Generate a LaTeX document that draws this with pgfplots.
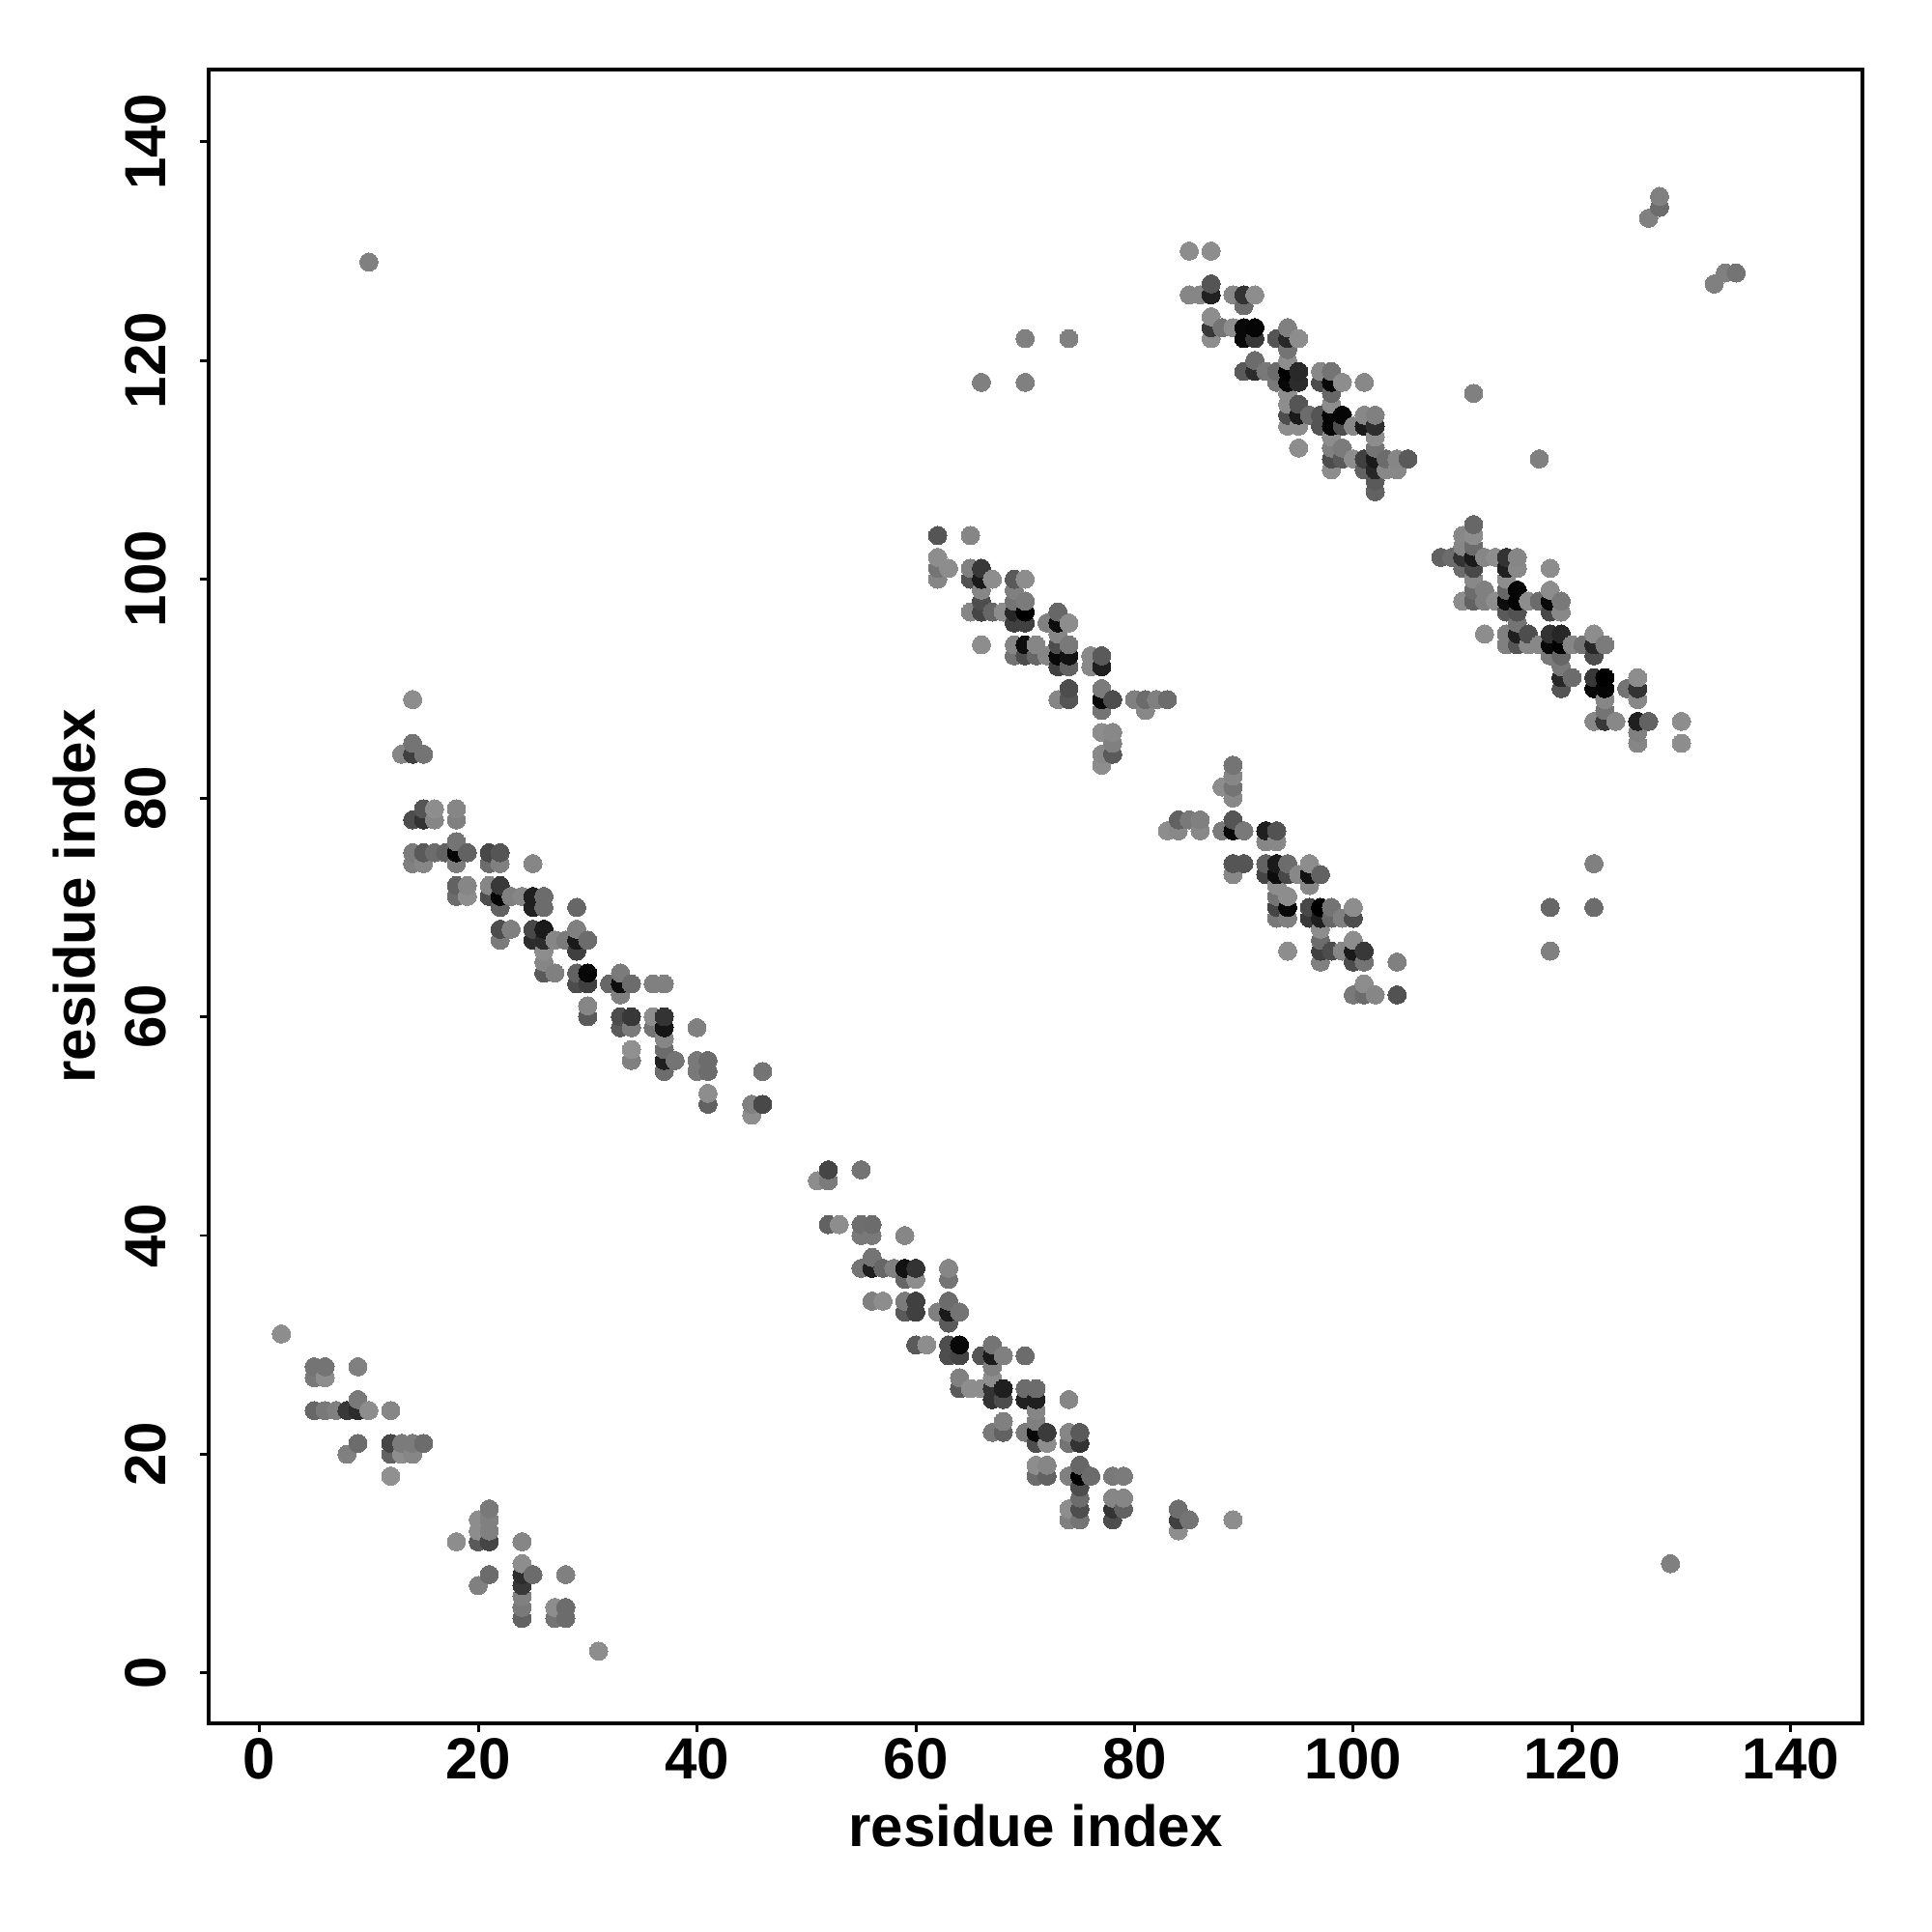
\documentclass[border=0pt]{standalone}
\usepackage{fontspec}
\setmainfont{Liberation Sans}
\usepackage{pgfplots}
\pgfplotsset{compat=1.18}
\begin{document}
\begin{tikzpicture}
\path[use as bounding box] (0,0) rectangle (20cm,20cm);
\begin{axis}[
  at={(2.16cm,2.16cm)}, anchor=south west,
  width=17.12cm, height=17.12cm, scale only axis,
  xmin=-4.65, xmax=146.55, ymin=-4.6, ymax=146.6,
  axis line style={line width=1pt, black},
  xtick={0,20,...,140}, ytick={0,20,...,140},
  xtick pos=bottom, ytick pos=left,
  tick align=outside, major tick length=2.5pt,
  tick style={line width=0.85pt, black},
  /pgf/number format/assume math mode=true,
  tick label style={font=\fontsize{17.1}{18}\selectfont\bfseries},
  label style={font=\fontsize{17.1}{18}\selectfont\bfseries},
  x tick label style={yshift=1.5pt},
  y tick label style={xshift=-6.5pt, rotate=90, anchor=south},
  xlabel={residue index}, ylabel={residue index},
  xlabel shift=0.3pt, ylabel shift=1.9pt,
  colormap/blackwhite,
  point meta min=0, point meta max=1,
]
\addplot[scatter, only marks, mark=*, mark size=2.68pt, scatter src=explicit,
  mark options={line width=0pt},
  scatter/use mapped color={draw=mapped color, fill=mapped color}]
 table[x=x, y=y, meta=g, row sep=\\] {
x y g\\
2 31 .55\\
5 24 .40\\ 5 27 .47\\ 5 28 .45\\
6 24 .47\\ 6 27 .55\\ 6 28 .45\\
7 24 .5\\
8 20 .5\\ 8 24 .22\\
9 21 .42\\ 9 24 .17\\ 9 25 .47\\ 9 28 .5\\
10 24 .55\\ 10 129 .5\\
12 18 .56\\ 12 20 .38\\ 12 21 .27\\ 12 24 .52\\
13 20 .55\\ 13 21 .48\\ 13 84 .52\\
14 20 .52\\ 14 21 .48\\ 14 74 .5\\ 14 75 .48\\ 14 78 .3\\ 14 84 .25\\ 14 85 .45\\ 14 89 .55\\
15 21 .42\\ 15 74 .52\\ 15 75 .35\\ 15 78 .2\\ 15 79 .33\\ 15 84 .45\\
16 75 .42\\ 16 78 .52\\ 16 79 .55\\
17 75 .38\\
18 12 .55\\ 18 71 .42\\ 18 72 .38\\ 18 74 .48\\ 18 75 .02\\ 18 76 .45\\ 18 78 .5\\ 18 79 .52\\
19 71 .55\\ 19 72 .52\\ 19 75 .38\\
20 8 .5\\ 20 12 .35\\ 20 13 .55\\ 20 14 .55\\
21 9 .42\\ 21 12 .27\\ 21 13 .5\\ 21 14 .5\\ 21 15 .47\\ 21 71 .3\\ 21 72 .52\\ 21 74 .42\\ 21 75 .28\\
22 67 .48\\ 22 68 .3\\ 22 70 .38\\ 22 71 .02\\ 22 72 .22\\ 22 74 .5\\ 22 75 .33\\
23 68 .5\\ 23 71 .5\\
24 5 .38\\ 24 6 .47\\ 24 7 .5\\ 24 8 .22\\ 24 9 .17\\ 24 10 .55\\ 24 12 .52\\ 24 71 .52\\
25 9 .42\\ 25 67 .17\\ 25 68 .28\\ 25 70 .13\\ 25 71 .12\\ 25 74 .52\\
26 64 .35\\ 26 65 .52\\ 26 66 .55\\ 26 67 .17\\ 26 68 .1\\ 26 70 .42\\ 26 71 .42\\
27 5 .45\\ 27 6 .55\\ 27 64 .5\\ 27 67 .52\\
28 5 .42\\ 28 6 .42\\ 28 9 .5\\ 28 67 .48\\
29 63 .3\\ 29 64 .38\\ 29 66 .25\\ 29 67 .1\\ 29 68 .5\\ 29 70 .4\\
30 60 .35\\ 30 61 .52\\ 30 63 .25\\ 30 64 .03\\ 30 67 .42\\
31 2 .55\\
32 63 .4\\
33 59 .35\\ 33 60 .3\\ 33 62 .5\\ 33 63 .05\\ 33 64 .48\\
34 56 .5\\ 34 57 .56\\ 34 59 .48\\ 34 60 .22\\ 34 63 .42\\
36 59 .45\\ 36 60 .55\\ 36 63 .5\\
37 55 .42\\ 37 56 .12\\ 37 57 .42\\ 37 58 .52\\ 37 59 .08\\ 37 60 .2\\ 37 63 .5\\
38 56 .45\\
40 55 .47\\ 40 56 .47\\ 40 59 .5\\
41 52 .38\\ 41 53 .55\\ 41 55 .42\\ 41 56 .42\\
45 51 .55\\ 45 52 .5\\
46 52 .28\\ 46 55 .45\\
51 45 .55\\
52 41 .38\\ 52 45 .48\\ 52 46 .27\\
53 41 .55\\
55 37 .45\\ 55 40 .47\\ 55 41 .43\\ 55 46 .45\\
56 34 .5\\ 56 37 .12\\ 56 38 .45\\ 56 40 .47\\ 56 41 .42\\
57 34 .55\\ 57 37 .4\\
58 37 .5\\
59 33 .35\\ 59 34 .48\\ 59 36 .4\\ 59 37 .07\\ 59 40 .52\\
60 30 .35\\ 60 33 .25\\ 60 34 .25\\ 60 36 .55\\ 60 37 .2\\
61 30 .55\\
62 33 .5\\ 62 100 .52\\ 62 101 .45\\ 62 102 .55\\ 62 104 .33\\
63 29 .3\\ 63 30 .3\\ 63 32 .35\\ 63 33 .1\\ 63 34 .42\\ 63 36 .45\\ 63 37 .52\\ 63 101 .55\\
64 26 .35\\ 64 27 .5\\ 64 29 .27\\ 64 30 .03\\ 64 33 .45\\
65 26 .55\\ 65 97 .52\\ 65 100 .32\\ 65 101 .5\\ 65 104 .52\\
66 26 .55\\ 66 29 .33\\ 66 94 .55\\ 66 97 .27\\ 66 98 .3\\ 66 99 .52\\ 66 100 .1\\ 66 101 .22\\ 66 118 .5\\
67 22 .47\\ 67 25 .2\\ 67 26 .2\\ 67 27 .55\\ 67 28 .5\\ 67 29 .1\\ 67 30 .45\\ 67 97 .4\\ 67 100 .55\\
68 22 .38\\ 68 23 .5\\ 68 25 .3\\ 68 26 .12\\ 68 29 .5\\ 68 97 .55\\
69 93 .45\\ 69 94 .52\\ 69 96 .25\\ 69 97 .15\\ 69 98 .45\\ 69 99 .5\\ 69 100 .35\\
70 22 .48\\ 70 25 .13\\ 70 26 .42\\ 70 29 .42\\ 70 93 .3\\ 70 94 .05\\ 70 96 .25\\ 70 97 0\\ 70 98 .48\\ 70 100 .55\\ 70 118 .5\\ 70 122 .5\\
71 18 .42\\ 71 19 .55\\ 71 21 .3\\ 71 22 .03\\ 71 23 .5\\ 71 24 .52\\ 71 25 .12\\ 71 26 .42\\ 71 93 .4\\ 71 94 .52\\
72 18 .38\\ 72 19 .52\\ 72 21 .55\\ 72 22 .23\\ 72 93 .52\\ 72 96 .5\\
73 89 .52\\ 73 92 .25\\ 73 93 .03\\ 73 94 .3\\ 73 95 .52\\ 73 96 .05\\ 73 97 .4\\
74 14 .5\\ 74 15 .55\\ 74 18 .5\\ 74 21 .45\\ 74 22 .52\\ 74 25 .52\\ 74 89 .33\\ 74 90 .3\\ 74 92 .38\\ 74 93 .07\\ 74 94 .47\\ 74 96 .55\\ 74 122 .5\\
75 14 .45\\ 75 15 .3\\ 75 16 .42\\ 75 17 .3\\ 75 18 0\\ 75 19 .4\\ 75 21 .2\\ 75 22 .35\\
76 18 .42\\ 76 92 .53\\ 76 93 .53\\
77 83 .55\\ 77 84 .53\\ 77 86 .55\\ 77 88 .45\\ 77 89 .03\\ 77 90 .48\\ 77 92 .12\\ 77 93 .35\\
78 14 .3\\ 78 15 .2\\ 78 16 .52\\ 78 18 .47\\ 78 84 .35\\ 78 85 .5\\ 78 86 .53\\ 78 89 .3\\
79 15 .38\\ 79 16 .52\\ 79 18 .48\\
80 89 .5\\
81 88 .53\\ 81 89 .42\\
82 89 .5\\
83 77 .55\\ 83 89 .42\\
84 13 .55\\ 84 14 .25\\ 84 15 .43\\ 84 77 .53\\ 84 78 .38\\
85 14 .45\\ 85 78 .47\\ 85 126 .52\\ 85 130 .55\\
86 77 .53\\ 86 78 .5\\ 86 126 .52\\
87 122 .55\\ 87 123 .22\\ 87 124 .55\\ 87 126 .13\\ 87 127 .33\\ 87 130 .55\\
88 77 .48\\ 88 81 .55\\ 88 123 .45\\
89 14 .55\\ 89 73 .53\\ 89 74 .33\\ 89 77 .03\\ 89 78 .33\\ 89 80 .53\\ 89 81 .45\\ 89 82 .52\\ 89 83 .45\\ 89 123 .55\\ 89 126 .52\\
90 74 .33\\ 90 77 .47\\ 90 119 .35\\ 90 122 .03\\ 90 123 .03\\ 90 125 .42\\ 90 126 .2\\
91 119 .17\\ 91 120 .42\\ 91 122 .22\\ 91 123 .02\\ 91 126 .55\\
92 73 .27\\ 92 74 .38\\ 92 76 .52\\ 92 77 .12\\ 92 119 .47\\
93 69 .47\\ 93 70 .27\\ 93 71 .45\\ 93 72 .55\\ 93 73 .05\\ 93 74 .1\\ 93 76 .53\\ 93 77 .32\\ 93 118 .47\\ 93 119 .42\\ 93 122 .33\\
94 66 .55\\ 94 69 .5\\ 94 70 .03\\ 94 71 .55\\ 94 73 .28\\ 94 74 .42\\ 94 114 .55\\ 94 115 .3\\ 94 116 .55\\ 94 117 .55\\ 94 118 .03\\ 94 119 0\\ 94 120 .55\\ 94 121 .45\\ 94 122 .15\\ 94 123 .5\\
95 73 .53\\ 95 112 .55\\ 95 114 .55\\ 95 115 .1\\ 95 116 .33\\ 95 118 .17\\ 95 119 .16\\ 95 122 .55\\
96 69 .22\\ 96 70 .28\\ 96 72 .53\\ 96 73 .07\\ 96 74 .55\\ 96 115 .42\\
97 65 .5\\ 97 66 .25\\ 97 67 .42\\ 97 68 .55\\ 97 69 .12\\ 97 70 0\\ 97 73 .38\\ 97 114 .33\\ 97 115 .33\\ 97 118 .3\\ 97 119 .53\\
98 66 .3\\ 98 69 .4\\ 98 70 .45\\ 98 110 .55\\ 98 111 .3\\ 98 112 .5\\ 98 113 .55\\ 98 114 .02\\ 98 115 .02\\ 98 116 .55\\ 98 117 .4\\ 98 118 .03\\ 98 119 .45\\
99 66 .52\\ 99 69 .5\\ 99 111 .35\\ 99 112 .48\\ 99 114 .3\\ 99 115 .02\\ 99 118 .55\\
100 62 .47\\ 100 65 .3\\ 100 66 .1\\ 100 67 .55\\ 100 69 .3\\ 100 70 .55\\ 100 111 .55\\ 100 114 .52\\
101 62 .42\\ 101 63 .55\\ 101 65 .45\\ 101 66 .22\\ 101 110 .38\\ 101 111 .25\\ 101 114 .1\\ 101 115 .53\\ 101 118 .53\\
102 62 .52\\ 102 108 .38\\ 102 109 .35\\ 102 110 .15\\ 102 111 .1\\ 102 112 .45\\ 102 113 .55\\ 102 114 .18\\ 102 115 .5\\
103 110 .53\\ 103 111 .42\\
104 62 .32\\ 104 65 .5\\ 104 110 .53\\ 104 111 .52\\
105 111 .35\\
108 102 .38\\
109 102 .42\\
110 98 .55\\ 110 101 .42\\ 110 102 .2\\ 110 103 .52\\ 110 104 .53\\
111 98 .38\\ 111 99 .42\\ 111 100 .53\\ 111 101 .28\\ 111 102 .1\\ 111 103 .42\\ 111 104 .55\\ 111 105 .4\\ 111 117 .5\\
112 95 .55\\ 112 98 .5\\ 112 99 .5\\ 112 102 .52\\
113 98 .55\\ 113 102 .55\\
114 94 .5\\ 114 95 .5\\ 114 97 .35\\ 114 98 .05\\ 114 99 .4\\ 114 100 .55\\ 114 101 .12\\ 114 102 .2\\
115 94 .33\\ 115 95 .12\\ 115 96 .45\\ 115 97 .32\\ 115 98 0\\ 115 99 .02\\ 115 101 .53\\ 115 102 .52\\
116 94 .53\\ 116 95 .3\\ 116 98 .55\\
117 94 .53\\ 117 98 .42\\ 117 111 .5\\
118 66 .5\\ 118 70 .4\\ 118 93 .48\\ 118 94 .03\\ 118 95 .2\\ 118 97 .28\\ 118 98 .03\\ 118 99 .55\\ 118 101 .55\\
119 90 .33\\ 119 91 .15\\ 119 92 .47\\ 119 93 .4\\ 119 94 0\\ 119 95 .15\\ 119 97 .53\\ 119 98 .47\\
120 91 .42\\ 120 94 .52\\
121 94 .45\\
122 70 .42\\ 122 74 .5\\ 122 87 .53\\ 122 90 .03\\ 122 91 .22\\ 122 93 .3\\ 122 94 .15\\ 122 95 .55\\
123 87 .22\\ 123 88 .45\\ 123 89 .52\\ 123 90 .02\\ 123 91 0\\ 123 94 .48\\
124 87 .53\\
125 90 .45\\
126 85 .52\\ 126 86 .5\\ 126 87 .12\\ 126 89 .53\\ 126 90 .2\\ 126 91 .55\\
127 87 .38\\ 127 133 .5\\
128 134 .42\\ 128 135 .5\\
129 10 .5\\
130 85 .55\\ 130 87 .55\\
133 127 .5\\
134 128 .5\\
135 128 .45\\
};
\end{axis}
\end{tikzpicture}
\end{document}
